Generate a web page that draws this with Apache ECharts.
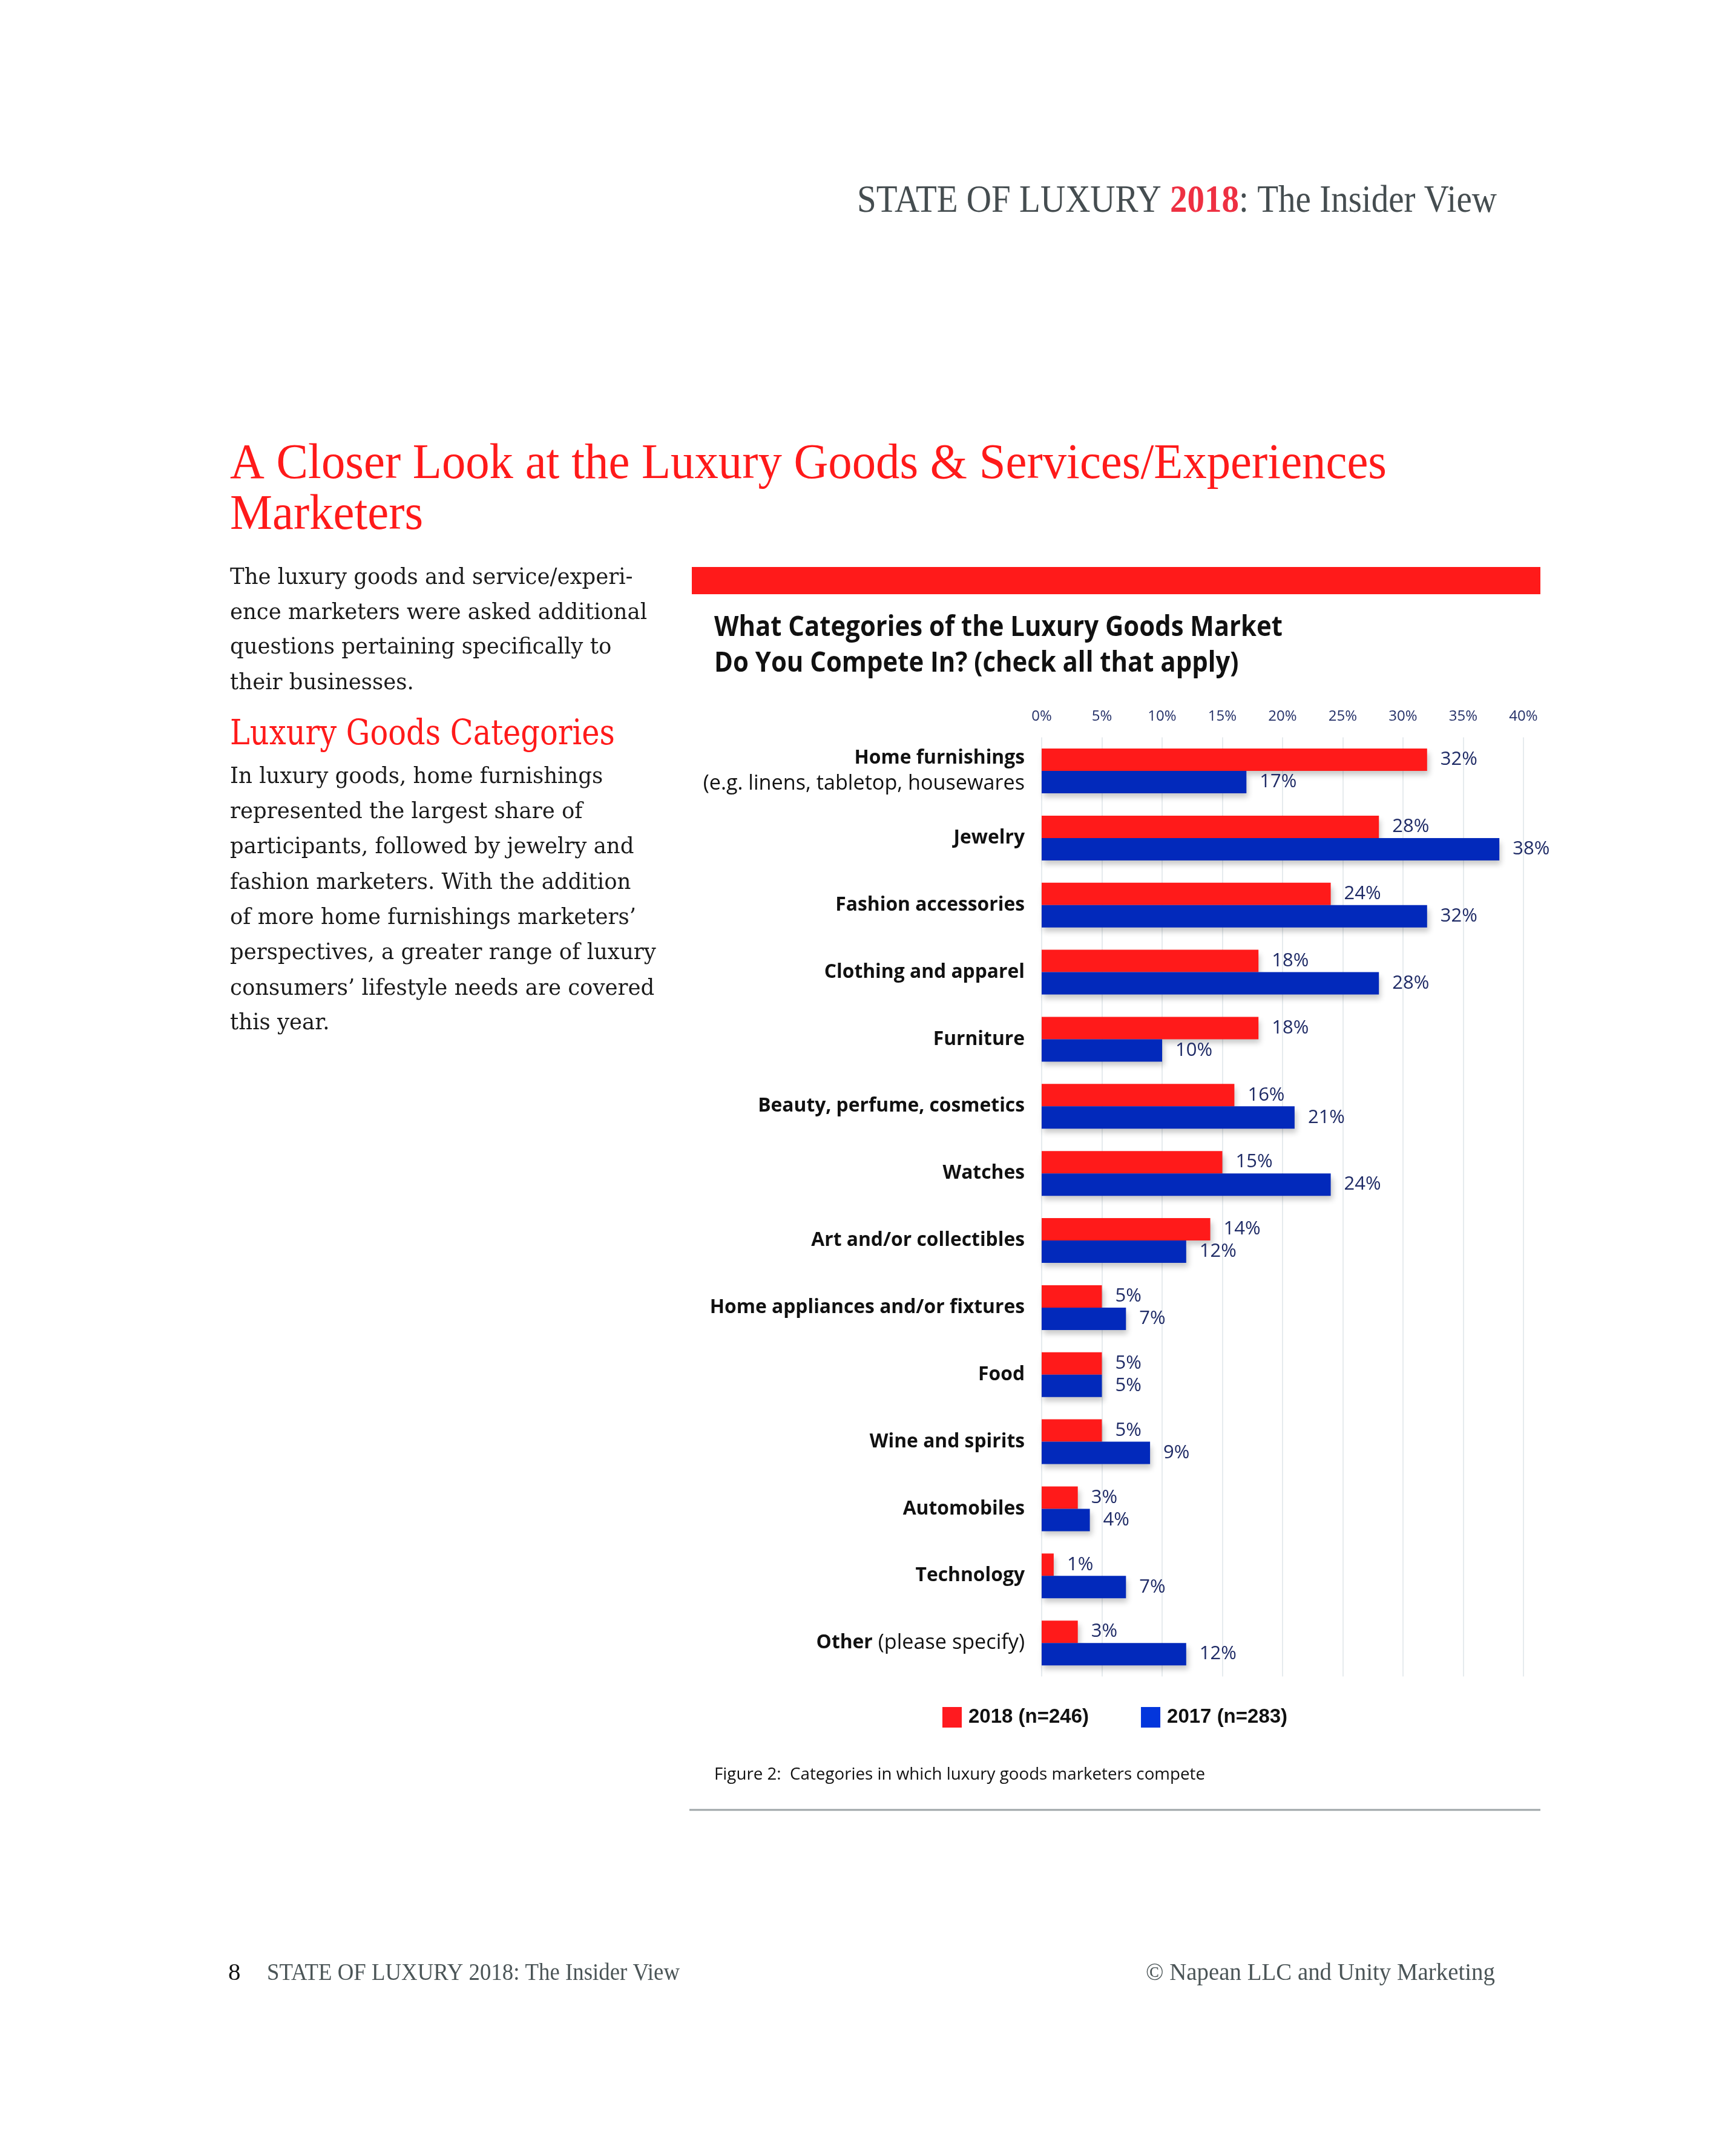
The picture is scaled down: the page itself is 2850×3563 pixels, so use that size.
<!DOCTYPE html>
<html>
<head>
<meta charset="utf-8">
<script src="https://cdn.jsdelivr.net/npm/echarts@6/dist/echarts.min.js"></script>
<style>
html,body{margin:0;padding:0;background:#ffffff;}
#chart{width:2850px;height:3563px;}
</style>
</head>
<body>
<div id="chart"></div>
<script>
// ---------------- data ----------------
const categories = [
  'Home furnishings\n(e.g. linens, tabletop, housewares',
  'Jewelry',
  'Fashion accessories',
  'Clothing and apparel',
  'Furniture',
  'Beauty, perfume, cosmetics',
  'Watches',
  'Art and/or collectibles',
  'Home appliances and/or fixtures',
  'Food',
  'Wine and spirits',
  'Automobiles',
  'Technology',
  'Other (please specify)'
];
const values2018 = [32, 28, 24, 18, 18, 16, 15, 14, 5, 5, 5, 3, 1, 3];
const values2017 = [17, 38, 32, 28, 10, 21, 24, 12, 7, 5, 9, 4, 7, 12];
const seriesNames = ['2018 (n=246)', '2017 (n=283)'];
const xTickLabels = ['0%', '5%', '10%', '15%', '20%', '25%', '30%', '35%', '40%'];

// ---------------- page texts ----------------
const headerParts = ['STATE OF LUXURY ', '2018', ': The Insider View'];
const titleLines = ['A Closer Look at the Luxury Goods & Services/Experiences', 'Marketers'];
const para1 = [
  'The luxury goods and service/experi-',
  'ence marketers were asked additional',
  'questions pertaining specifically to',
  'their businesses.'
];
const subHeading = 'Luxury Goods Categories';
const para2 = [
  'In luxury goods, home furnishings',
  'represented the largest share of',
  'participants, followed by jewelry and',
  'fashion marketers. With the addition',
  'of more home furnishings marketers\u2019',
  'perspectives, a greater range of luxury',
  'consumers\u2019 lifestyle needs are covered',
  'this year.'
];
const chartTitle = ['What Categories of the Luxury Goods Market', 'Do You Compete In? (check all that apply)'];
const caption = 'Figure 2:  Categories in which luxury goods marketers compete';
const footerLeft = 'STATE OF LUXURY 2018: The Insider View';
const footerRight = '\u00A9 Napean LLC and Unity Marketing';
const pageNumber = '8';

// ---------------- helpers ----------------
const mctx = document.createElement('canvas').getContext('2d');
function tw(t, font) { mctx.font = font; return mctx.measureText(t).width; }
function textEl(x, y, text, font, fill, sc) {
  return {
    type: 'text', x: x, y: y, scaleX: sc, silent: true,
    style: { text: text, font: font, fill: fill, textAlign: 'left', align: 'left',
             textVerticalAlign: 'middle', verticalAlign: 'middle' }
  };
}
function lineEls(x, y, segs, sc, align) {
  const widths = segs.map(s => tw(s.text, s.font));
  const W = widths.reduce((a, b) => a + b, 0);
  let cx = align === 'right' ? x - W * sc : x;
  return segs.map((s, i) => {
    const el = textEl(cx, y, s.text, s.font, s.fill, sc);
    cx += widths[i] * sc;
    return el;
  });
}
function scaleFor(text, font, target) { return target / tw(text, font); }

const SERIF = '"Liberation Serif", "Times New Roman", serif';
const BODY = '"DejaVu Serif", serif';
const SANS = '"Open Sans", "Noto Sans", sans-serif';

const graphics = [];

// header
const hFontR = '64px ' + SERIF, hFontB = 'bold 64px ' + SERIF;
const hSegs = [
  { text: headerParts[0], font: hFontR, fill: '#454d50' },
  { text: headerParts[1], font: hFontB, fill: '#ee3042' },
  { text: headerParts[2], font: hFontR, fill: '#454d50' }
];
const hW = hSegs.reduce((a, s) => a + tw(s.text, s.font), 0);
graphics.push(...lineEls(2473, 333, hSegs, 1057 / hW, 'right'));

// title
const tFont = '82px ' + SERIF;
const tSc = scaleFor(titleLines[0], tFont, 1911);
graphics.push(...lineEls(380, 768, [{ text: titleLines[0], font: tFont, fill: '#ff1a1a' }], tSc));
graphics.push(...lineEls(380, 852, [{ text: titleLines[1], font: tFont, fill: '#ff1a1a' }], tSc));

// body paragraphs
const bFont = '38px ' + BODY;
const bSc = scaleFor(para1[1], bFont, 689);
const p1y = [955, 1013, 1070, 1129];
para1.forEach((t, i) => graphics.push(...lineEls(380, p1y[i], [{ text: t, font: bFont, fill: '#1b1b1b' }], bSc)));
const shFont = '57px ' + BODY;
graphics.push(...lineEls(380, 1215, [{ text: subHeading, font: shFont, fill: '#ff1a1a' }], scaleFor(subHeading, shFont, 636)));
const p2y = [1284, 1342, 1400, 1459, 1517, 1575, 1634, 1691];
para2.forEach((t, i) => graphics.push(...lineEls(380, p2y[i], [{ text: t, font: bFont, fill: '#1b1b1b' }], bSc)));

// red band
graphics.push({ type: 'rect', silent: true, shape: { x: 1143, y: 937, width: 1402, height: 45 }, style: { fill: '#ff1a1a' } });

// chart title
const ctFont = 'bold 46px ' + SANS;
const ctSc = scaleFor(chartTitle[0], ctFont, 939);
graphics.push(...lineEls(1180, 1038, [{ text: chartTitle[0], font: ctFont, fill: '#111111' }], ctSc));
graphics.push(...lineEls(1180, 1097, [{ text: chartTitle[1], font: ctFont, fill: '#111111' }], ctSc));

// caption + rule
const capFont = '28px ' + SANS;
graphics.push(...lineEls(1180, 2933, [{ text: caption, font: capFont, fill: '#111111' }], scaleFor(caption, capFont, 811)));
graphics.push({ type: 'line', silent: true, shape: { x1: 1139, y1: 2991, x2: 2545, y2: 2991 }, style: { stroke: '#9ea5a8', lineWidth: 3 } });

// footer
const fFont = '41px ' + SERIF;
graphics.push(...lineEls(377, 3261, [{ text: pageNumber, font: fFont, fill: '#111111' }], 1));
graphics.push(...lineEls(441, 3261, [{ text: footerLeft, font: fFont, fill: '#4b5557' }], scaleFor(footerLeft, fFont, 682)));
graphics.push(...lineEls(2470, 3261, [{ text: footerRight, font: fFont, fill: '#4b5557' }], scaleFor(footerRight, fFont, 577), 'right'));

// category label sizes fitted to reference widths
const catSize = Math.round(30 * 282 / tw('Home furnishings', 'bold 30px ' + SANS) * 10) / 10;
const catRegSize = Math.round(30 * 531 / tw('(e.g. linens, tabletop, housewares', '30px ' + SANS) * 10) / 10;

const barShadow = { shadowColor: 'rgba(0,0,0,0.22)', shadowBlur: 9, shadowOffsetX: 3, shadowOffsetY: 7 };
const valueLabel = {
  show: true, position: 'right', distance: 22, formatter: '{c}%',
  color: '#1f2b66', fontSize: 31, fontWeight: 500, fontFamily: SANS
};

const chart = echarts.init(document.getElementById('chart'), null, { renderer: 'canvas' });
chart.setOption({
  backgroundColor: '#ffffff',
  animation: false,
  grid: { left: 1721, top: 1218.6, width: 796, height: 1552, containLabel: false },
  xAxis: {
    type: 'value', position: 'top', min: 0, max: 40, interval: 5,
    axisLine: { show: false }, axisTick: { show: false },
    splitLine: { show: true, lineStyle: { color: '#e6ebee', width: 2 } },
    axisLabel: {
      margin: 22, color: '#243068', fontSize: 24, fontFamily: SANS,
      formatter: v => xTickLabels[Math.round(v / 5)]
    }
  },
  yAxis: {
    type: 'category', data: categories, inverse: true,
    axisLine: { show: false }, axisTick: { show: false }, splitLine: { show: false },
    axisLabel: {
      margin: 28,
      formatter: v => {
        if (v.indexOf('\n') >= 0) {
          const p = v.split('\n');
          return '{b|' + p[0] + '}\n{r|' + p[1] + '}';
        }
        const i = v.indexOf(' (');
        if (i > 0) return '{b|' + v.slice(0, i) + '}{r|' + v.slice(i) + '}';
        return '{b|' + v + '}';
      },
      rich: {
        b: { fontWeight: 'bold', fontSize: catSize, fontFamily: SANS, color: '#111111', lineHeight: 42 },
        r: { fontWeight: 'normal', fontSize: catRegSize, fontFamily: SANS, color: '#111111', lineHeight: 42 }
      }
    }
  },
  legend: {
    left: 1552, top: 2816, itemWidth: 32, itemHeight: 34, itemGap: 86, icon: 'rect',
    textStyle: { fontFamily: '"Liberation Sans", Arial, sans-serif', fontWeight: 'bold', fontSize: 33, color: '#111111', padding: [0, 0, 0, 6] },
    data: [
      { name: seriesNames[0], itemStyle: { color: '#ff1a1f', shadowBlur: 0, shadowColor: 'transparent' } },
      { name: seriesNames[1], itemStyle: { color: '#0336dc', shadowBlur: 0, shadowColor: 'transparent' } }
    ]
  },
  series: [
    {
      name: seriesNames[0], type: 'bar', data: values2018, barWidth: 37, barGap: '0%',
      itemStyle: Object.assign({ color: '#ff1a1a' }, barShadow),
      label: valueLabel
    },
    {
      name: seriesNames[1], type: 'bar', data: values2017, barWidth: 37, barGap: '0%',
      itemStyle: Object.assign({ color: '#0229bb' }, barShadow),
      label: valueLabel
    }
  ],
  graphic: { elements: graphics }
});
</script>
</body>
</html>
